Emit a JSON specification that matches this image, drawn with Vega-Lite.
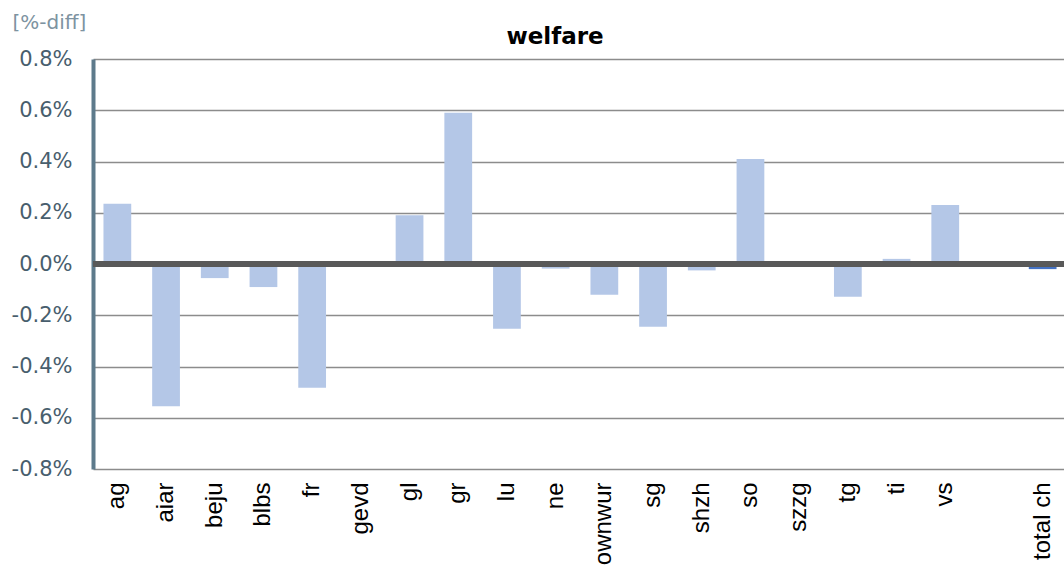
{
  "$schema": "https://vega.github.io/schema/vega-lite/v6.json",
  "autosize": {"type": "none"},
  "width": 974,
  "height": 410,
  "padding": {"left": 93, "top": 59, "right": 0, "bottom": 103},
  "background": "white",
  "title": {
    "text": "welfare",
    "font": "DejaVu Sans",
    "fontSize": 23,
    "fontWeight": "bold",
    "color": "#000000",
    "baseline": "alphabetic",
    "dx": -25,
    "dy": 67,
    "offset": 12
  },
  "config": {
    "view": {"stroke": null},
    "font": "Liberation Sans"
  },
  "data": {
    "values": [
      {"region": "ag", "diff": 0.00235, "kind": "canton"},
      {"region": "aiar", "diff": -0.00555, "kind": "canton"},
      {"region": "beju", "diff": -0.00055, "kind": "canton"},
      {"region": "blbs", "diff": -0.0009, "kind": "canton"},
      {"region": "fr", "diff": -0.00483, "kind": "canton"},
      {"region": "gevd", "diff": 0.0, "kind": "canton"},
      {"region": "gl", "diff": 0.0019, "kind": "canton"},
      {"region": "gr", "diff": 0.0059, "kind": "canton"},
      {"region": "lu", "diff": -0.00253, "kind": "canton"},
      {"region": "ne", "diff": -0.00018, "kind": "canton"},
      {"region": "ownwur", "diff": -0.0012, "kind": "canton"},
      {"region": "sg", "diff": -0.00245, "kind": "canton"},
      {"region": "shzh", "diff": -0.00025, "kind": "canton"},
      {"region": "so", "diff": 0.0041, "kind": "canton"},
      {"region": "szzg", "diff": 0.0, "kind": "canton"},
      {"region": "tg", "diff": -0.00128, "kind": "canton"},
      {"region": "ti", "diff": 0.0002, "kind": "canton"},
      {"region": "vs", "diff": 0.0023, "kind": "canton"},
      {"region": "total ch", "diff": -0.0002, "kind": "total"}
    ]
  },
  "layer": [
    {
      "mark": {"type": "bar"},
      "encoding": {
        "x": {
          "field": "region",
          "type": "nominal",
          "sort": null,
          "scale": {
            "domain": ["ag", "aiar", "beju", "blbs", "fr", "gevd", "gl", "gr", "lu", "ne", "ownwur", "sg", "shzh", "so", "szzg", "tg", "ti", "vs", " ", "total ch"],
            "paddingInner": 0.43,
            "paddingOuter": 0.215
          },
          "axis": {
            "title": null,
            "domain": false,
            "ticks": false,
            "labelAngle": -90,
            "labelFontSize": 24,
            "labelColor": "#000000",
            "labelPadding": 13,
            "labelFont": "Liberation Sans"
          }
        },
        "y": {
          "field": "diff",
          "type": "quantitative",
          "scale": {"domain": [-0.008, 0.008], "nice": false},
          "axis": {
            "values": [-0.008, -0.006, -0.004, -0.002, 0, 0.002, 0.004, 0.006, 0.008],
            "labelExpr": "replace(format(datum.value, '.1%'), '\u2212', '-')",
            "title": "[%-diff]",
            "titleAngle": 0,
            "titleAlign": "left",
            "titleBaseline": "alphabetic",
            "titleX": -81,
            "titleY": -31,
            "titleFont": "DejaVu Sans",
            "titleFontSize": 20,
            "titleFontWeight": "normal",
            "titleColor": "#7d93a1",
            "labelFontSize": 21,
            "labelColor": "#485e6d",
            "labelPadding": 21,
            "labelFont": "DejaVu Sans",
            "ticks": false,
            "domainColor": "#5d7a8b",
            "domainWidth": 4,
            "grid": true,
            "gridColor": "#8c8c8c",
            "gridWidth": 1.5
          }
        },
        "color": {
          "field": "kind",
          "type": "nominal",
          "scale": {"domain": ["canton", "total"], "range": ["#b4c7e7", "#4472c4"]},
          "legend": null
        }
      }
    },
    {
      "mark": {"type": "rule", "color": "#595959", "strokeWidth": 5},
      "encoding": {"y": {"datum": 0}}
    }
  ]
}
